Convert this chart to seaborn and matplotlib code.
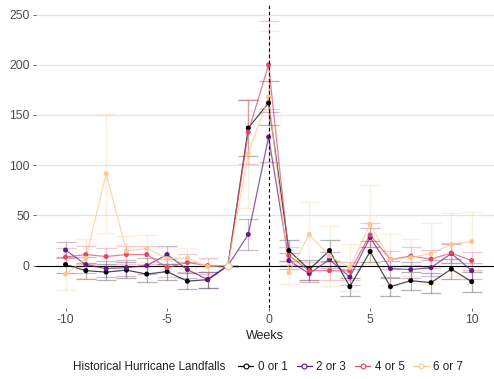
import numpy as np
import pandas as pd
import seaborn as sns
import matplotlib
matplotlib.use("Agg")
import matplotlib.pyplot as plt
from matplotlib.lines import Line2D
from matplotlib.offsetbox import HPacker

weeks = list(range(-10, 11))
groups = ["0 or 1", "2 or 3", "4 or 5", "6 or 7"]

est_0_1 = [1, -5, -6.5, -4.5, -8.5, -6, -15.5, -14, 0, 137, 162, 15, -4, 15, -21, 14, -21, -15, -17, -3.5, -16]
err_0_1 = [8, 8, 8, 8, 8, 8, 8, 8, 0, 28, 22, 10, 10, 10, 9, 10, 9, 9, 10, 10, 10]

est_2_3 = [15.5, 1, -3, -2, 0, 11, -4, -14, 0, 31, 128, 5, -8, 6, -11.5, 28, -3, -4, -2, 12, -5]
err_2_3 = [8, 8, 8, 8, 8, 9, 8, 8, 0, 15, 25, 8, 8, 8, 8, 9, 8, 8, 8, 9, 8]

est_4_5 = [8.5, 11, 9, 11, 11, -2, 3, 0, 0, 133, 200, 10, -5, -5, -5.5, 30.5, 6, 9.5, 6.5, 12.5, 5]
err_4_5 = [9, 9, 9, 9, 9, 9, 9, 8, 0, 32, 44, 9, 9, 9, 9, 12, 9, 9, 9, 10, 9]

est_6_7 = [-8.5, 7, 91.5, 14.5, 17, 7, 7.5, -1, 0, 111.5, 168, -7, 31, 9.5, -2, 41, 6, 8, 12, 21, 24]
err_6_7 = [16, 19, 59, 15, 13, 12, 10, 8, 0, 54, 66, 11, 32, 30, 23, 39, 25, 18, 30, 31, 29]

ref_week = -2

estimates = [est_0_1, est_2_3, est_4_5, est_6_7]
errors = [err_0_1, err_2_3, err_4_5, err_6_7]

rows = []
for g, e, s in zip(groups, estimates, errors):
    for w, v, d in zip(weeks, e, s):
        rows.append({"week": w, "estimate": v, "err": d, "group": g})
df = pd.DataFrame(rows)

cmap = matplotlib.colormaps["magma"]
palette = {g: cmap(p) for g, p in zip(groups, [0.0, 0.3, 0.6, 0.88])}

sns.set_theme(style="white")
plt.rcParams["font.family"] = ["Liberation Sans", "DejaVu Sans"]

fig = plt.figure(figsize=(4.94, 3.79), dpi=100)
ax = fig.add_axes([0.073, 0.188, 0.927, 0.800])

for y in [0, 50, 100, 150, 200, 250]:
    ax.axhline(y, color="#e5e5e5", lw=0.9, zorder=0)

for g in groups:
    sub = df[df.group == g]
    ax.errorbar(sub.week, sub.estimate, yerr=sub.err, fmt="none",
                ecolor=palette[g], alpha=0.3, capsize=7, elinewidth=0.9,
                capthick=0.9, zorder=1)

sns.lineplot(data=df, x="week", y="estimate", hue="group", palette=palette,
             hue_order=groups, estimator=None, errorbar=None, lw=0.9,
             alpha=0.7, legend=False, ax=ax, zorder=2)
sns.scatterplot(data=df[df.week != ref_week], x="week", y="estimate",
                hue="group", palette=palette, hue_order=groups, s=13,
                linewidth=0, legend=False, ax=ax, zorder=3)
ref = df[df.week == ref_week]
ax.scatter(ref.week, ref.estimate, s=22, facecolor="white",
           edgecolor=cmap(0.88), linewidth=0.8, zorder=4)

ax.axhline(0, color="black", lw=0.8, zorder=1.5)
ax.axvline(0, color="black", lw=0.8, ls=(0, (3, 2.5)), zorder=5)

ax.set_xlim(-11.45, 11.1)
ax.set_ylim(-42, 260)
ax.set_xticks([-10, -5, 0, 5, 10])
ax.set_xticklabels(["-10", "-5", "0", "5", "10"])
ax.set_yticks([0, 50, 100, 150, 200, 250])
ax.tick_params(axis="both", colors="#4d4d4d", labelsize=8.7, length=2.5,
               width=0.6, pad=2, bottom=True, left=True)
ax.tick_params(axis="both", labelcolor="#4d4d4d")
ax.set_xlabel("Weeks", fontsize=9, color="#222222", labelpad=3)
ax.set_ylabel("")
for sp in ax.spines.values():
    sp.set_visible(False)

handles = [Line2D([0], [0], color=palette[g], lw=0.9, marker="o",
                  markersize=3.5, markerfacecolor="white",
                  markeredgecolor=palette[g], markeredgewidth=0.8)
           for g in groups]
leg = fig.legend(handles, groups, title="Historical Hurricane Landfalls",
                 loc="center", bbox_to_anchor=(0.543, 0.032), ncol=4,
                 frameon=False, fontsize=8.4, title_fontsize=8.4,
                 handlelength=1.3, handletextpad=0.4, columnspacing=0.75,
                 borderaxespad=0)
title_box = leg._legend_title_box
handle_box = leg._legend_handle_box
leg._legend_box._children = [HPacker(children=[title_box, handle_box],
                                     pad=0, sep=9, align="center")]
for t in leg.get_texts():
    t.set_color("#222222")
leg.get_title().set_color("#222222")

fig.savefig("out.png", dpi=100)
